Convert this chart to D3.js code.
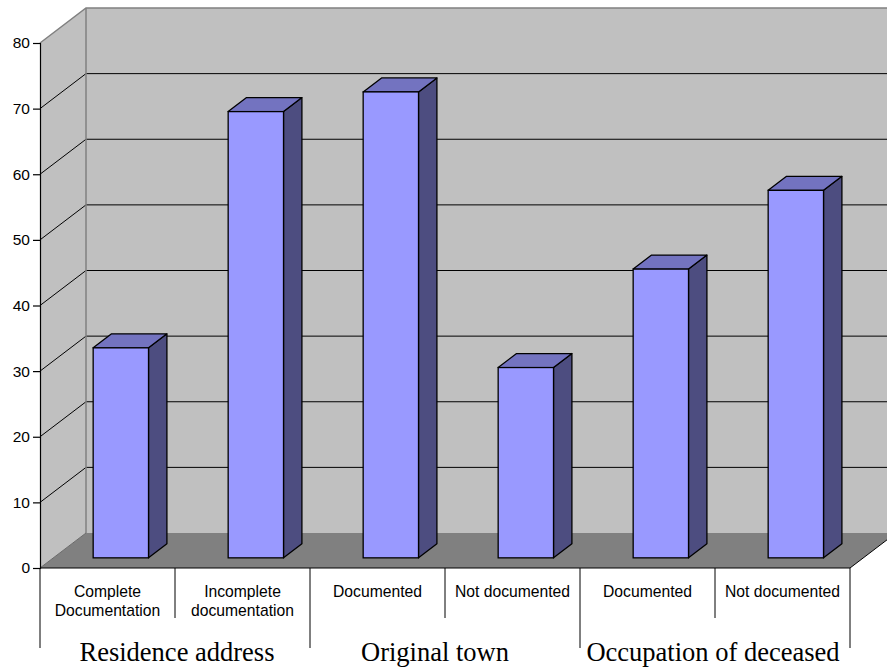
<!DOCTYPE html>
<html>
<head>
<meta charset="utf-8">
<script src="https://cdn.jsdelivr.net/npm/d3@7"></script>
<style>
  html, body { margin: 0; padding: 0; background: #fff; }
  svg { display: block; }
</style>
</head>
<body>
<svg id="chart" width="887" height="667"></svg>
<script>
// Category labels (one or two lines each), grouped under three headings
const categories = [
  ["Complete", "Documentation"],
  ["Incomplete", "documentation"],
  ["Documented"],
  ["Not documented"],
  ["Documented"],
  ["Not documented"]
];
const values = [32, 68, 71, 29, 44, 56];
const groups = ["Residence address", "Original town", "Occupation of deceased"];
const groupSizes = [2, 2, 2];
const yTicks = [0, 10, 20, 30, 40, 50, 60, 70, 80];

const W = 887, H = 667;
const svg = d3.select("#chart");

// Plot frame: front axis plane and depth offset of the 3D box
const plotLeft = 40, plotRight = 850, plotTop = 43, plotBottom = 568;
const depth = { dx: 46, dy: 35 };
const barFront = 0.29, barDepth = 0.4;   // fractions of the box depth

const x = d3.scaleBand().domain(d3.range(categories.length)).range([plotLeft, plotRight]).padding(0);
const y = d3.scaleLinear().domain([0, 80]).range([plotBottom, plotTop]);
const barW = x.bandwidth() * 0.41;

const wallFill = "#c0c0c0", floorFill = "#808080", wallLine = "#808080";

// Side wall (left)
svg.append("polygon")
  .attr("points", [[plotLeft, y(80)], [plotLeft + depth.dx, y(80) - depth.dy], [plotLeft + depth.dx, y(0) - depth.dy], [plotLeft, y(0)]].join(" "))
  .attr("fill", wallFill).attr("stroke", "none");

// Back wall (runs off the right edge)
svg.append("rect")
  .attr("x", plotLeft + depth.dx).attr("y", y(80) - depth.dy)
  .attr("width", W - plotLeft - depth.dx + 20).attr("height", y(0) - y(80))
  .attr("fill", wallFill);

// Floor
svg.append("polygon")
  .attr("points", [[plotLeft, y(0)], [plotLeft + depth.dx, y(0) - depth.dy], [plotRight + depth.dx, y(0) - depth.dy], [plotRight, y(0)]].join(" "))
  .attr("fill", floorFill).attr("stroke", "none");

// Gridlines across side and back walls
const grid = svg.append("g");
yTicks.filter(t => t > 0 && t < 80).forEach(t => {
  grid.append("polyline")
    .attr("points", [[plotLeft, y(t)], [plotLeft + depth.dx, y(t) - depth.dy], [W + 5, y(t) - depth.dy]].join(" "))
    .attr("fill", "none").attr("stroke", "#000").attr("stroke-width", 1);
});

// Wall outlines
svg.append("polyline")
  .attr("points", [[plotLeft, y(80)], [plotLeft + depth.dx, y(80) - depth.dy], [W + 5, y(80) - depth.dy]].join(" "))
  .attr("fill", "none").attr("stroke", wallLine).attr("stroke-width", 1.5);
svg.append("line")
  .attr("x1", plotLeft + depth.dx).attr("x2", plotLeft + depth.dx)
  .attr("y1", y(80) - depth.dy).attr("y2", y(0) - depth.dy)
  .attr("stroke", wallLine).attr("stroke-width", 1.5);
svg.append("line")
  .attr("x1", plotLeft).attr("y1", y(0))
  .attr("x2", plotLeft + depth.dx).attr("y2", y(0) - depth.dy)
  .attr("stroke", "#6a6a6a").attr("stroke-width", 1);

// Floor front and right edges
svg.append("polyline")
  .attr("points", [[plotLeft, y(0)], [plotRight, y(0)], [plotRight + depth.dx, y(0) - depth.dy]].join(" "))
  .attr("fill", "none").attr("stroke", "#000").attr("stroke-width", 1);

// Bars as 3D columns
const ox = depth.dx * barFront, oy = depth.dy * barFront;
const bx = depth.dx * barDepth, by = depth.dy * barDepth;
const bars = svg.append("g").selectAll("g").data(values).join("g");
bars.each(function (v, i) {
  const g = d3.select(this);
  const x0 = x(i) + (x.bandwidth() - barW) / 2 + ox;
  const x1 = x0 + barW;
  const yt = y(v) - oy, yb = y(0) - oy;
  g.append("polygon")
    .attr("points", [[x1, yt], [x1 + bx, yt - by], [x1 + bx, yb - by], [x1, yb]].join(" "))
    .attr("fill", "#4d4d80").attr("stroke", "#000").attr("stroke-width", 1.3).attr("stroke-linejoin", "round");
  g.append("polygon")
    .attr("points", [[x0, yt], [x0 + bx, yt - by], [x1 + bx, yt - by], [x1, yt]].join(" "))
    .attr("fill", "#7373c0").attr("stroke", "#000").attr("stroke-width", 1.3).attr("stroke-linejoin", "round");
  g.append("rect")
    .attr("x", x0).attr("y", yt).attr("width", barW).attr("height", yb - yt)
    .attr("fill", "#9999ff").attr("stroke", "#000").attr("stroke-width", 1.3);
});

// Value axis
const yAxis = svg.append("g")
  .attr("transform", `translate(${plotLeft},0)`)
  .call(d3.axisLeft(y).tickValues(yTicks).tickSize(7).tickPadding(3).tickFormat(d3.format("d")));
yAxis.select(".domain").attr("stroke", "#000").attr("stroke-width", 1.2);
yAxis.selectAll(".tick line").attr("stroke", "#000").attr("stroke-width", 1.2);
yAxis.selectAll("text")
  .attr("font-family", "Liberation Sans, Arial, sans-serif")
  .attr("font-size", "15.5px").attr("fill", "#000");

// Category labels
const labels = svg.append("g")
  .attr("font-family", "Liberation Sans, Arial, sans-serif")
  .attr("font-size", "15.7px").attr("fill", "#000").attr("text-anchor", "middle");
categories.forEach((lines, i) => {
  const cx = x(i) + x.bandwidth() / 2;
  const t = labels.append("text").attr("x", cx).attr("y", 597);
  lines.forEach((ln, j) => t.append("tspan").attr("x", cx).attr("y", 597 + j * 19).text(ln));
});

// Category separators and group separators
const sep = svg.append("g").attr("stroke", "#000").attr("stroke-width", 1);
const groupStarts = [0];
groupSizes.forEach((s, k) => groupStarts.push(groupStarts[k] + s));
d3.range(categories.length + 1).forEach(i => {
  const xv = i < categories.length ? x(i) : plotRight;
  const isGroup = groupStarts.includes(i);
  sep.append("line").attr("x1", xv).attr("x2", xv).attr("y1", y(0)).attr("y2", isGroup ? 648 : 618);
});

// Group labels (the middle heading sits slightly left of its span)
const groupNudge = [2, -10, -2];
const glabels = svg.append("g")
  .attr("font-family", "Liberation Serif, Times New Roman, serif")
  .attr("font-size", "26.5px").attr("fill", "#000").attr("text-anchor", "middle");
groups.forEach((name, k) => {
  const a = x(groupStarts[k]);
  const b = groupStarts[k + 1] < categories.length ? x(groupStarts[k + 1]) : plotRight;
  glabels.append("text").attr("x", (a + b) / 2 + groupNudge[k]).attr("y", 661).text(name);
});
</script>
</body>
</html>
